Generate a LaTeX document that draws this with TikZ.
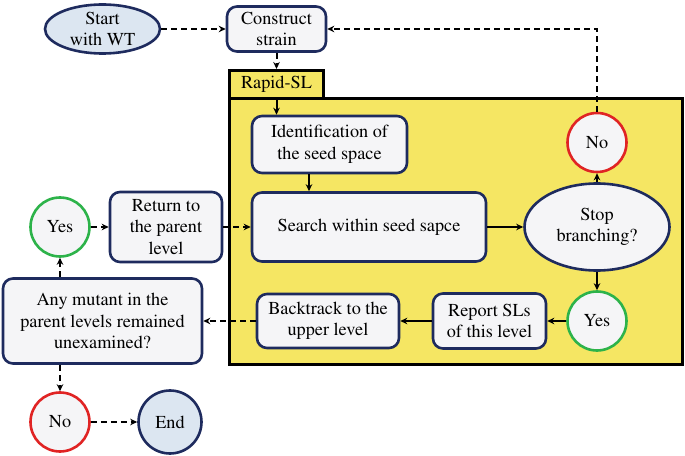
\documentclass[tikz,border=0pt]{standalone}
\usepackage[T1]{fontenc}
\usepackage{times}
\usetikzlibrary{shapes.geometric,arrows.meta}
\definecolor{boxfill}{HTML}{F5F5F7}
\definecolor{navy}{HTML}{1E2B5E}
\definecolor{startfill}{HTML}{DCE6F1}
\definecolor{ylw}{HTML}{F5E663}
\definecolor{redc}{HTML}{E02424}
\definecolor{greenc}{HTML}{2DB34A}
\tikzset{
  base/.style={font=\fontsize{18.3}{21.5}\selectfont, align=center, inner sep=0pt},
  box/.style={base, draw=navy, fill=boxfill, line width=2.6bp, rounded corners=10bp},
  ell/.style={base, ellipse, draw=navy, line width=2.6bp},
  circno/.style={base, circle, draw=redc, fill=boxfill, line width=2.6bp, minimum size=59bp},
  circyes/.style={base, circle, draw=greenc, fill=boxfill, line width=2.6bp, minimum size=59bp},
  arr/.style={line width=2bp, -{Stealth[length=7bp,width=6.5bp]}},
  darr/.style={arr, dash pattern=on 6bp off 4bp},
}
\begin{document}
\begin{tikzpicture}[x=1bp,y=-1bp]
\useasboundingbox (0,0) rectangle (685,456);
% yellow area
\draw[fill=ylw, line width=3bp] (229.5,98.5) rectangle (682,364);
\node[base, draw, fill=ylw, line width=3bp, minimum width=94bp, minimum height=28bp] (tab) at (276.5,84.5) {Rapid-SL};
% nodes
\node[ell, fill=startfill, minimum width=115bp, minimum height=49bp] (start) at (102.5,29) {Start\\with WT};
\node[box, minimum width=99bp, minimum height=45bp] (construct) at (276.5,29) {Construct\\strain};
\node[box, minimum width=155bp, minimum height=57bp] (ident) at (329.5,144.5) {Identification of\\the seed space};
\node[box, minimum width=234bp, minimum height=69bp] (search) at (369,227) {Search within seed sapce};
\node[ell, fill=boxfill, minimum width=145bp, minimum height=87bp] (stop) at (597,227) {Stop\\branching?};
\node[circno] (notop) at (597,142.5) {No};
\node[circyes] (yesr) at (597,321) {Yes};
\node[box, minimum width=113bp, minimum height=55bp] (report) at (489.5,321) {Report SLs\\of this level};
\node[box, minimum width=142bp, minimum height=54bp] (back) at (328,321) {Backtrack to the\\upper level};
\node[box, minimum width=199bp, minimum height=85bp] (any) at (102.5,321) {Any mutant in the\\parent levels remained\\unexamined?};
\node[circyes] (yesl) at (60,227) {Yes};
\node[box, minimum width=112bp, minimum height=70bp] (ret) at (166,227) {Return to\\the parent\\level};
\node[circno] (nob) at (60,422) {No};
\node[base, circle, draw=navy, fill=startfill, line width=2.6bp, minimum size=63bp] (endn) at (170,422) {End};
% connectors
\draw[darr] (start.east) -- (start.east -| construct.west);
\draw[darr] (notop.north) |- (construct.east);
\draw[darr] (construct.south) -- (tab.north);
\draw[arr] (tab.south) -- (tab.south |- ident.north);
\draw[arr] ([xshift=-20.5bp]ident.south) -- ([xshift=-20.5bp]ident.south |- search.north);
\draw[arr] (search.east) -- (search.east -| stop.west);
\draw[arr] (stop.north) -- (notop.south);
\draw[arr] (stop.south) -- (yesr.north);
\draw[arr] (yesr.west) -- (yesr.west -| report.east);
\draw[arr] (report.west) -- (report.west -| back.east);
\draw[darr] (back.west) -- (back.west -| any.east);
\draw[darr] (any.north -| yesl.south) -- (yesl.south);
\draw[darr] (yesl.east) -- (yesl.east -| ret.west);
\draw[darr] (ret.east) -- (ret.east -| search.west);
\draw[darr] (any.south -| nob.north) -- (nob.north);
\draw[darr] (nob.east) -- (nob.east -| endn.west);
\end{tikzpicture}
\end{document}
